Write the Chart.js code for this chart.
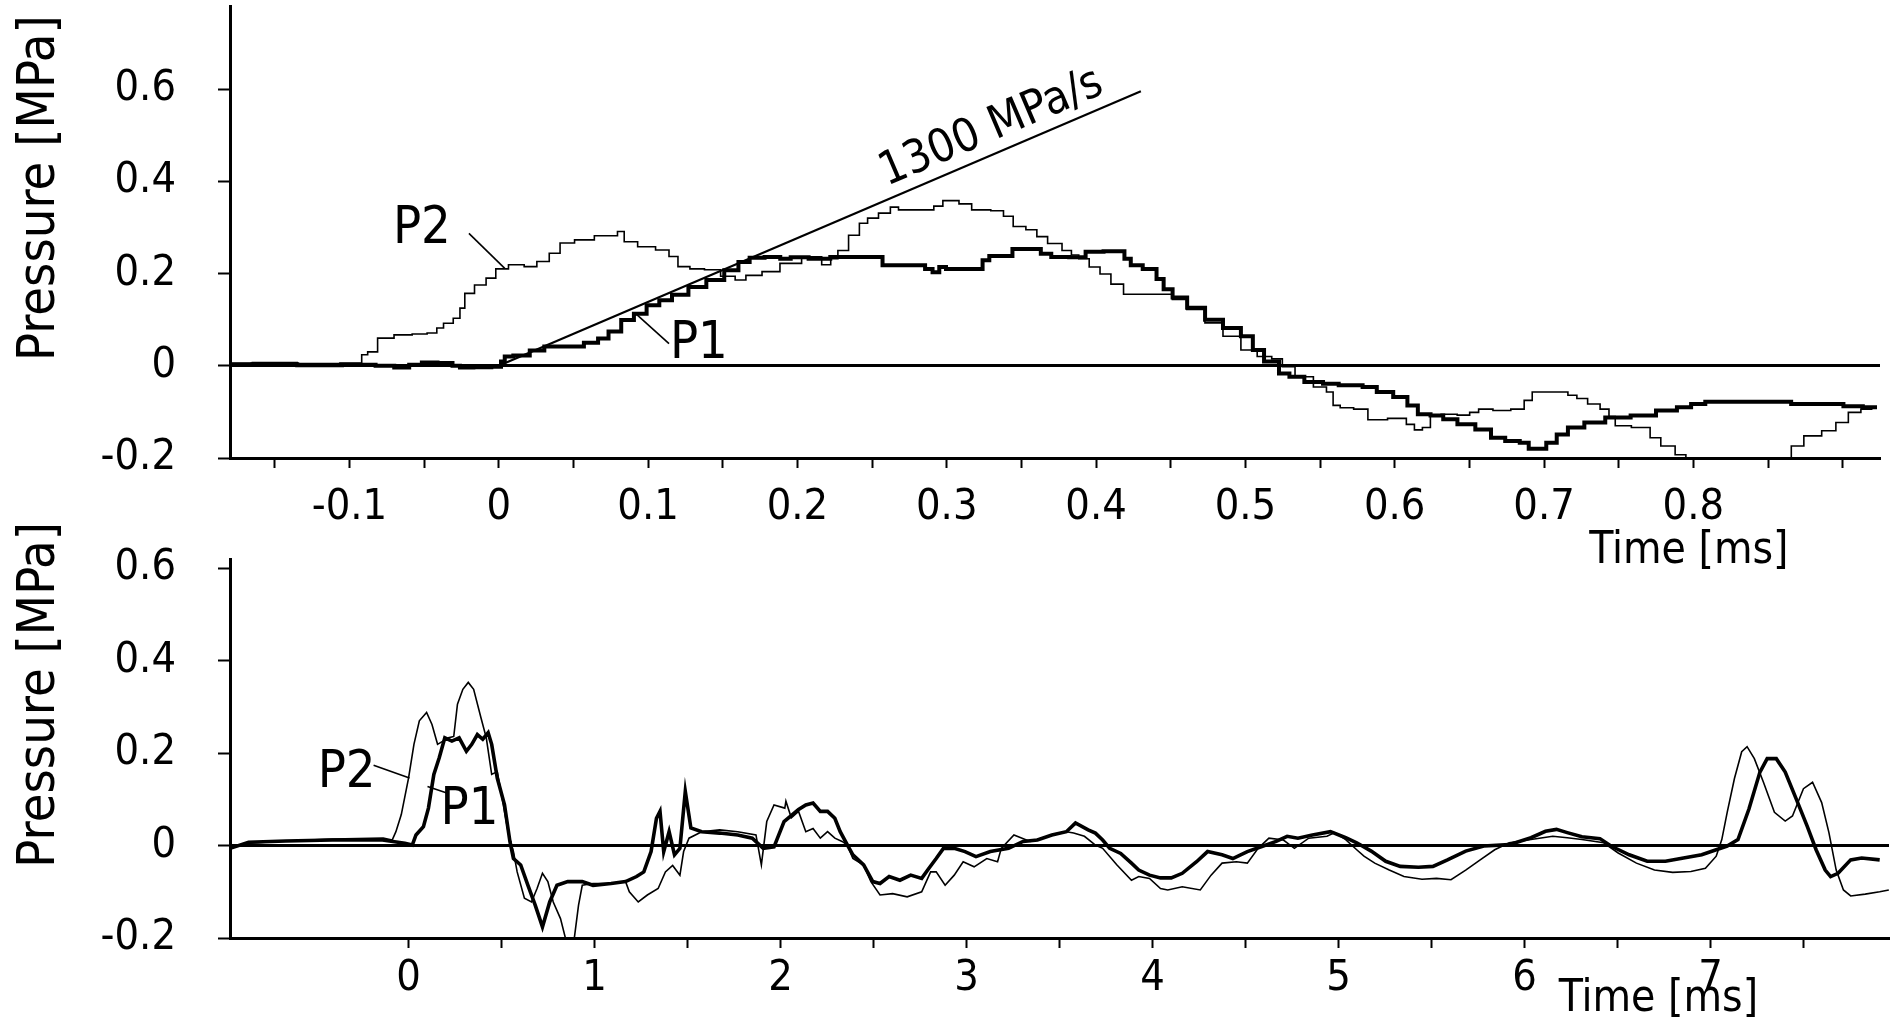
<!DOCTYPE html>
<html>
<head>
<meta charset="utf-8">
<script src="https://cdn.jsdelivr.net/npm/chart.js@4.4.0/dist/chart.umd.min.js"></script>
<style>
  body { margin: 0; background: #fff; }
  #wrap { position: relative; width: 1898px; height: 1021px; }
  canvas { position: absolute; left: 0; }
</style>
</head>
<body>
<div id="wrap">
  <canvas id="topChart" width="1898" height="580" style="top:0"></canvas>
  <canvas id="bottomChart" width="1898" height="551" style="top:470px"></canvas>
</div>
<script>
// Pressure traces, [time ms, pressure MPa]

// Upper panel: zoom of the first millisecond (staircase recorder output)
const topP1 = [
  [-0.18,0.002],[-0.15,0.003],[-0.12,0.001],[-0.09,0.002],[-0.075,0.0],[-0.065,-0.004],[-0.055,0.002],
  [-0.048,0.007],[-0.034,0.006],[-0.028,0.0],[-0.024,-0.004],[-0.01,-0.003],[0.0,-0.002],[0.003,0.009],
  [0.005,0.02],[0.0145,0.022],[0.027,0.033],[0.034,0.042],[0.051,0.042],[0.063,0.05],[0.07,0.059],
  [0.077,0.074],[0.087,0.099],[0.094,0.113],[0.104,0.131],[0.111,0.142],[0.121,0.154],[0.133,0.171],
  [0.145,0.186],[0.157,0.207],[0.164,0.225],[0.172,0.234],[0.184,0.236],[0.193,0.232],[0.198,0.235],
  [0.217,0.232],[0.227,0.236],[0.254,0.236],[0.26,0.218],[0.283,0.218],[0.288,0.21],[0.293,0.203],
  [0.297,0.214],[0.302,0.21],[0.322,0.21],[0.326,0.229],[0.331,0.238],[0.343,0.238],[0.345,0.253],
  [0.358,0.253],[0.368,0.243],[0.372,0.236],[0.392,0.235],[0.394,0.247],[0.416,0.248],[0.422,0.232],
  [0.4245,0.218],[0.438,0.21],[0.443,0.188],[0.4475,0.166],[0.455,0.148],[0.467,0.126],[0.479,0.10],
  [0.491,0.082],[0.503,0.064],[0.507,0.034],[0.518,0.009],[0.527,-0.017],[0.532,-0.024],[0.547,-0.035],
  [0.557,-0.039],[0.568,-0.042],[0.574,-0.042],[0.583,-0.046],[0.593,-0.057],[0.605,-0.068],[0.612,-0.086],
  [0.619,-0.105],[0.629,-0.108],[0.636,-0.116],[0.648,-0.127],[0.66,-0.138],[0.669,-0.156],[0.679,-0.163],
  [0.6885,-0.167],[0.691,-0.18],[0.698,-0.18],[0.705,-0.167],[0.712,-0.149],[0.72,-0.134],[0.734,-0.123],
  [0.748,-0.112],[0.768,-0.108],[0.782,-0.097],[0.796,-0.09],[0.801,-0.083],[0.815,-0.078],[0.863,-0.078],
  [0.868,-0.083],[0.897,-0.083],[0.904,-0.088],[0.923,-0.09]
];

const topP2 = [
  [-0.18,0.006],[-0.15,0.007],[-0.12,0.005],[-0.093,0.006],[-0.0906,0.024],[-0.085,0.03],[-0.0773,0.06],
  [-0.063,0.067],[-0.053,0.069],[-0.043,0.071],[-0.04,0.082],[-0.034,0.092],[-0.027,0.103],[-0.025,0.125],
  [-0.0205,0.157],[-0.012,0.175],[-0.005,0.19],[0.001,0.21],[0.012,0.219],[0.022,0.215],[0.029,0.226],
  [0.0386,0.244],[0.0435,0.266],[0.058,0.273],[0.07,0.282],[0.078,0.282],[0.081,0.291],[0.087,0.269],
  [0.099,0.258],[0.111,0.251],[0.117,0.237],[0.123,0.215],[0.133,0.21],[0.1425,0.208],[0.1546,0.194],
  [0.162,0.186],[0.169,0.196],[0.1836,0.204],[0.193,0.222],[0.2126,0.236],[0.2199,0.219],[0.2247,0.232],
  [0.2295,0.25],[0.239,0.283],[0.244,0.309],[0.25,0.32],[0.2586,0.331],[0.2659,0.344],[0.2695,0.338],
  [0.2877,0.338],[0.295,0.346],[0.2998,0.358],[0.307,0.358],[0.3094,0.351],[0.324,0.338],[0.335,0.336],
  [0.341,0.324],[0.348,0.302],[0.358,0.295],[0.3627,0.28],[0.3724,0.265],[0.382,0.25],[0.385,0.24],
  [0.3918,0.232],[0.399,0.214],[0.4063,0.199],[0.4136,0.177],[0.4232,0.155],[0.4475,0.155],[0.4547,0.144],
  [0.4668,0.122],[0.479,0.093],[0.491,0.064],[0.503,0.034],[0.5128,0.02],[0.5225,0.015],[0.527,-0.002],
  [0.5395,-0.024],[0.5516,-0.046],[0.557,-0.057],[0.5605,-0.086],[0.5665,-0.091],[0.5785,-0.094],
  [0.5856,-0.117],[0.6048,-0.114],[0.6108,-0.127],[0.6156,-0.139],[0.6215,-0.134],[0.6263,-0.108],
  [0.6359,-0.105],[0.6478,-0.107],[0.6526,-0.101],[0.6598,-0.094],[0.6718,-0.097],[0.6837,-0.094],
  [0.6897,-0.075],[0.6945,-0.057],[0.7124,-0.057],[0.7196,-0.064],[0.7244,-0.071],[0.734,-0.083],
  [0.7411,-0.094],[0.7459,-0.11],[0.7495,-0.13],[0.7675,-0.134],[0.7746,-0.156],[0.7818,-0.174],
  [0.7938,-0.193],[0.7962,-0.2],[0.8632,-0.2],[0.868,-0.174],[0.88,-0.152],[0.8919,-0.141],[0.899,-0.123],
  [0.9086,-0.101],[0.9158,-0.094],[0.923,-0.09]
];

// the drawn pressure-rise reference line (end points as drawn)
const riseLine = [[0.0, 0.0], [0.43, 0.595]];

// Lower panel: whole record
const bottomP1 = [
  [-0.96,-0.006],[-0.86,0.007],[-0.66,0.01],[-0.41,0.012],[-0.14,0.012],[-0.02,0.005],[0.02,0.001],
  [0.04,0.023],[0.08,0.041],[0.107,0.081],[0.136,0.154],[0.165,0.19],[0.195,0.233],[0.233,0.226],
  [0.272,0.233],[0.311,0.204],[0.34,0.219],[0.37,0.24],[0.399,0.23],[0.428,0.244],[0.447,0.219],
  [0.477,0.146],[0.516,0.088],[0.545,0.009],[0.564,-0.028],[0.603,-0.042],[0.642,-0.086],[0.681,-0.129],
  [0.72,-0.176],[0.759,-0.122],[0.798,-0.086],[0.856,-0.078],[0.934,-0.078],[0.992,-0.086],[1.089,-0.082],
  [1.167,-0.078],[1.226,-0.067],[1.265,-0.057],[1.304,-0.013],[1.333,0.059],[1.352,0.074],[1.372,-0.013],
  [1.401,0.03],[1.43,-0.02],[1.459,-0.006],[1.488,0.117],[1.518,0.038],[1.576,0.03],[1.673,0.027],
  [1.77,0.023],[1.848,0.016],[1.907,-0.006],[1.965,-0.003],[2.019,0.052],[2.097,0.078],[2.136,0.088],
  [2.175,0.092],[2.214,0.074],[2.253,0.074],[2.292,0.059],[2.321,0.03],[2.36,0.001],[2.389,-0.02],
  [2.447,-0.042],[2.496,-0.078],[2.535,-0.082],[2.584,-0.067],[2.642,-0.075],[2.70,-0.064],[2.759,-0.071],
  [2.798,-0.049],[2.837,-0.028],[2.876,-0.006],[2.934,-0.006],[2.992,-0.013],[3.051,-0.024],[3.128,-0.013],
  [3.226,-0.006],[3.304,0.009],[3.381,0.012],[3.459,0.023],[3.537,0.03],[3.586,0.049],[3.654,0.034],
  [3.693,0.027],[3.732,0.012],[3.77,-0.006],[3.829,-0.017],[3.887,-0.038],[3.926,-0.053],[3.984,-0.064],
  [4.043,-0.07],[4.101,-0.07],[4.16,-0.06],[4.237,-0.035],[4.296,-0.013],[4.374,-0.02],[4.432,-0.028],
  [4.51,-0.013],[4.588,-0.002],[4.665,0.009],[4.724,0.02],[4.782,0.016],[4.86,0.023],[4.957,0.03],
  [5.039,0.017],[5.098,0.006],[5.176,-0.012],[5.254,-0.034],[5.332,-0.045],[5.43,-0.047],[5.508,-0.045],
  [5.586,-0.031],[5.684,-0.012],[5.781,-0.001],[5.918,0.002],[6.035,0.017],[6.113,0.031],[6.172,0.035],
  [6.23,0.028],[6.309,0.019],[6.406,0.015],[6.465,-0.001],[6.563,-0.02],[6.66,-0.034],[6.758,-0.034],
  [6.855,-0.027],[6.953,-0.02],[7.031,-0.009],[7.09,-0.001],[7.148,0.013],[7.207,0.079],[7.266,0.159],
  [7.305,0.188],[7.354,0.188],[7.402,0.159],[7.461,0.101],[7.52,0.042],[7.568,-0.009],[7.617,-0.053],
  [7.646,-0.067],[7.686,-0.06],[7.754,-0.031],[7.813,-0.027],[7.91,-0.031]
];

const bottomP2 = [
  [-0.96,-0.006],[-0.86,0.005],[-0.66,0.01],[-0.41,0.014],[-0.136,0.016],[-0.088,0.012],[-0.068,0.03],
  [-0.039,0.067],[0.0,0.146],[0.029,0.219],[0.058,0.27],[0.097,0.288],[0.126,0.262],[0.156,0.219],
  [0.185,0.226],[0.214,0.233],[0.243,0.236],[0.263,0.306],[0.292,0.338],[0.321,0.353],[0.35,0.338],
  [0.389,0.277],[0.418,0.233],[0.447,0.154],[0.477,0.16],[0.506,0.096],[0.535,0.03],[0.564,-0.013],
  [0.584,-0.057],[0.623,-0.114],[0.661,-0.122],[0.691,-0.093],[0.72,-0.06],[0.749,-0.078],[0.778,-0.122],
  [0.817,-0.158],[0.856,-0.22],[0.885,-0.22],[0.914,-0.129],[0.934,-0.086],[0.992,-0.082],[1.089,-0.082],
  [1.167,-0.078],[1.187,-0.1],[1.235,-0.122],[1.284,-0.107],[1.342,-0.093],[1.381,-0.057],[1.42,-0.043],
  [1.459,-0.064],[1.479,-0.013],[1.508,0.016],[1.576,0.03],[1.673,0.034],[1.77,0.03],[1.868,0.023],
  [1.897,-0.042],[1.926,0.052],[1.965,0.088],[2.023,0.081],[2.029,0.096],[2.058,0.06],[2.097,0.074],
  [2.136,0.03],[2.175,0.037],[2.214,0.016],[2.253,0.03],[2.292,0.016],[2.331,0.009],[2.36,0.001],
  [2.389,-0.028],[2.447,-0.042],[2.486,-0.078],[2.535,-0.107],[2.603,-0.104],[2.681,-0.111],[2.759,-0.1],
  [2.807,-0.057],[2.837,-0.057],[2.885,-0.086],[2.934,-0.064],[2.982,-0.035],[3.041,-0.046],[3.109,-0.028],
  [3.167,-0.035],[3.187,-0.006],[3.255,0.023],[3.342,0.009],[3.44,0.02],[3.537,0.03],[3.576,0.027],
  [3.634,0.02],[3.693,0.001],[3.732,-0.006],[3.809,-0.042],[3.887,-0.075],[3.926,-0.067],[3.984,-0.071],
  [4.043,-0.093],[4.082,-0.096],[4.16,-0.089],[4.257,-0.096],[4.315,-0.064],[4.374,-0.038],[4.451,-0.035],
  [4.51,-0.038],[4.568,-0.006],[4.626,0.016],[4.704,0.012],[4.763,-0.006],[4.84,0.016],[4.938,0.02],
  [4.98,0.028],[5.039,0.013],[5.098,-0.009],[5.137,-0.023],[5.195,-0.038],[5.273,-0.053],[5.352,-0.067],
  [5.449,-0.073],[5.527,-0.071],[5.605,-0.074],[5.684,-0.053],[5.762,-0.031],[5.84,-0.009],[5.918,0.006],
  [6.035,0.013],[6.152,0.02],[6.23,0.017],[6.309,0.013],[6.426,0.006],[6.504,-0.016],[6.602,-0.038],
  [6.699,-0.053],[6.797,-0.058],[6.895,-0.056],[6.973,-0.049],[7.031,-0.023],[7.061,0.013],[7.09,0.072],
  [7.129,0.145],[7.168,0.203],[7.197,0.214],[7.236,0.188],[7.285,0.137],[7.344,0.072],[7.402,0.053],
  [7.441,0.064],[7.5,0.123],[7.549,0.137],[7.598,0.093],[7.637,0.028],[7.676,-0.053],[7.715,-0.096],
  [7.754,-0.109],[7.832,-0.105],[7.91,-0.1],[7.959,-0.096]
];

// Axes
const topXTicks = [-0.15,-0.1,-0.05,0,0.05,0.1,0.15,0.2,0.25,0.3,0.35,0.4,0.45,0.5,0.55,0.6,0.65,0.7,0.75,0.8,0.85,0.9];
const topXLabels = [-0.1,0,0.1,0.2,0.3,0.4,0.5,0.6,0.7,0.8];
const bottomXTicks = [0,0.5,1,1.5,2,2.5,3,3.5,4,4.5,5,5.5,6,6.5,7,7.5];
const bottomXLabels = [0,1,2,3,4,5,6,7];
const yTicks = [-0.2,0,0.2,0.4,0.6];

const FONT = "'DejaVu Sans Condensed', 'DejaVu Sans', sans-serif";
const toPoints = (arr) => arr.map(([x, y]) => ({x: x, y: y}));

// labels, leader lines and axis titles, positioned in data units
const annotate = {
  id: 'annotate',
  afterDatasetsDraw(chart, args, opts) {
    const {ctx} = chart;
    const xs = chart.scales.x, ys = chart.scales.y;
    ctx.save();
    ctx.fillStyle = '#000';
    ctx.strokeStyle = '#000';
    (opts.leaders || []).forEach(l => {
      ctx.lineWidth = 1.6;
      ctx.beginPath();
      ctx.moveTo(xs.getPixelForValue(l[0]), ys.getPixelForValue(l[1]));
      ctx.lineTo(xs.getPixelForValue(l[2]), ys.getPixelForValue(l[3]));
      ctx.stroke();
    });
    (opts.texts || []).forEach(t => {
      const px = t.px !== undefined ? t.px : xs.getPixelForValue(t.x);
      const py = ys.getPixelForValue(t.y);
      let angle = t.angle || 0;
      if (t.along) {
        const a = t.along;
        angle = Math.atan2(ys.getPixelForValue(a[1][1]) - ys.getPixelForValue(a[0][1]),
                           xs.getPixelForValue(a[1][0]) - xs.getPixelForValue(a[0][0])) * 180 / Math.PI;
      }
      ctx.save();
      ctx.translate(px, py);
      ctx.rotate(angle * Math.PI / 180);
      ctx.font = `${t.size}px ${FONT}`;
      ctx.textAlign = 'center';
      ctx.textBaseline = 'middle';
      ctx.fillText(t.text, 0, 0);
      ctx.restore();
    });
    ctx.restore();
  }
};

function labelFor(list) {
  return (v) => {
    const hit = list.find(l => Math.abs(l - v) < 1e-6);
    return hit === undefined ? '' : String(hit);
  };
}

function makeChart(id, o) {
  return new Chart(document.getElementById(id).getContext('2d'), {
    type: 'line',
    data: { datasets: o.datasets },
    plugins: [annotate],
    options: {
      responsive: false,
      animation: false,
      events: [],
      layout: { padding: { left: 0, top: o.top, right: o.right, bottom: 0 } },
      plugins: {
        legend: { display: false },
        tooltip: { enabled: false },
        annotate: { texts: o.texts, leaders: o.leaders }
      },
      scales: {
        x: {
          type: 'linear',
          min: o.xMin,
          max: o.xMax,
          afterBuildTicks: (scale) => { scale.ticks = o.xTicks.map(v => ({value: v})); },
          afterFit: (scale) => {
            scale.height = o.height - o.bottom;
            scale.paddingLeft = 0; scale.paddingRight = 0;
          },
          border: { display: true, color: '#000', width: 3 },
          grid: { drawOnChartArea: false, drawTicks: true, tickLength: 10, tickColor: '#000', tickWidth: 2 },
          ticks: {
            autoSkip: false, maxRotation: 0, color: '#000', padding: o.xPad,
            font: { family: FONT, size: 43 },
            callback: labelFor(o.xLabels)
          }
        },
        y: {
          type: 'linear',
          min: -0.2,
          max: o.yMax,
          afterBuildTicks: (scale) => { scale.ticks = yTicks.map(v => ({value: v})); },
          afterFit: (scale) => {
            scale.width = 230;
            scale.paddingTop = 0; scale.paddingBottom = 0;
          },
          border: { display: true, color: '#000', width: 3 },
          grid: {
            drawOnChartArea: true,
            tickLength: 12,
            tickColor: '#000',
            tickWidth: 2,
            // only the zero line is drawn across the plot
            color: (c) => (c.tick && Math.abs(c.tick.value) < 1e-9) ? '#000' : 'rgba(0,0,0,0)',
            lineWidth: (c) => (c.tick && Math.abs(c.tick.value) < 1e-9) ? 3 : 1
          },
          ticks: {
            color: '#000', padding: 42,
            font: { family: FONT, size: 43 },
            callback: labelFor(yTicks)
          }
        }
      }
    }
  });
}

let topChart = makeChart('topChart', {
  height: 580, top: 6, right: 18, bottom: 458,
  xMin: -0.18, xMax: 0.925, yMax: 0.78,
  xTicks: topXTicks, xLabels: topXLabels, xPad: 14,
  datasets: [
    { label: 'P2', data: toPoints(topP2), borderColor: '#000', borderWidth: 1.6, pointRadius: 0, stepped: 'middle' },
    { label: 'P1', data: toPoints(topP1), borderColor: '#000', borderWidth: 4, pointRadius: 0, stepped: 'middle' },
    { label: '1300 MPa/s', data: toPoints(riseLine), borderColor: '#000', borderWidth: 2.2, pointRadius: 0 }
  ],
  texts: [
    { text: '1300 MPa/s', x: 0.33, y: 0.515, size: 46, along: riseLine },
    { text: 'P2', x: -0.0515, y: 0.296, size: 52 },
    { text: 'P1', x: 0.134, y: 0.046, size: 52 },
    { text: 'Time [ms]', x: 0.797, y: -0.402, size: 44 },
    { text: 'Pressure [MPa]', px: 40, y: 0.385, size: 52, angle: -90 }
  ],
  leaders: [
    [-0.02, 0.287, 0.004, 0.211],
    [0.0917, 0.113, 0.114, 0.048]
  ]
});

let bottomChart = makeChart('bottomChart', {
  height: 551, top: 89, right: 9, bottom: 468,
  xMin: -0.96, xMax: 7.96, yMax: 0.62,
  xTicks: bottomXTicks, xLabels: bottomXLabels, xPad: 5,
  datasets: [
    { label: 'P2', data: toPoints(bottomP2), borderColor: '#000', borderWidth: 1.6, pointRadius: 0 },
    { label: 'P1', data: toPoints(bottomP1), borderColor: '#000', borderWidth: 3.6, pointRadius: 0 }
  ],
  texts: [
    { text: 'P2', x: -0.333, y: 0.157, size: 52 },
    { text: 'P1', x: 0.328, y: 0.076, size: 52 },
    { text: 'Time [ms]', x: 6.72, y: -0.333, size: 44 },
    { text: 'Pressure [MPa]', px: 40, y: 0.326, size: 52, angle: -90 }
  ],
  leaders: [
    [-0.188, 0.174, 0.005, 0.146],
    [0.102, 0.128, 0.21, 0.113]
  ]
});
</script>
</body>
</html>
